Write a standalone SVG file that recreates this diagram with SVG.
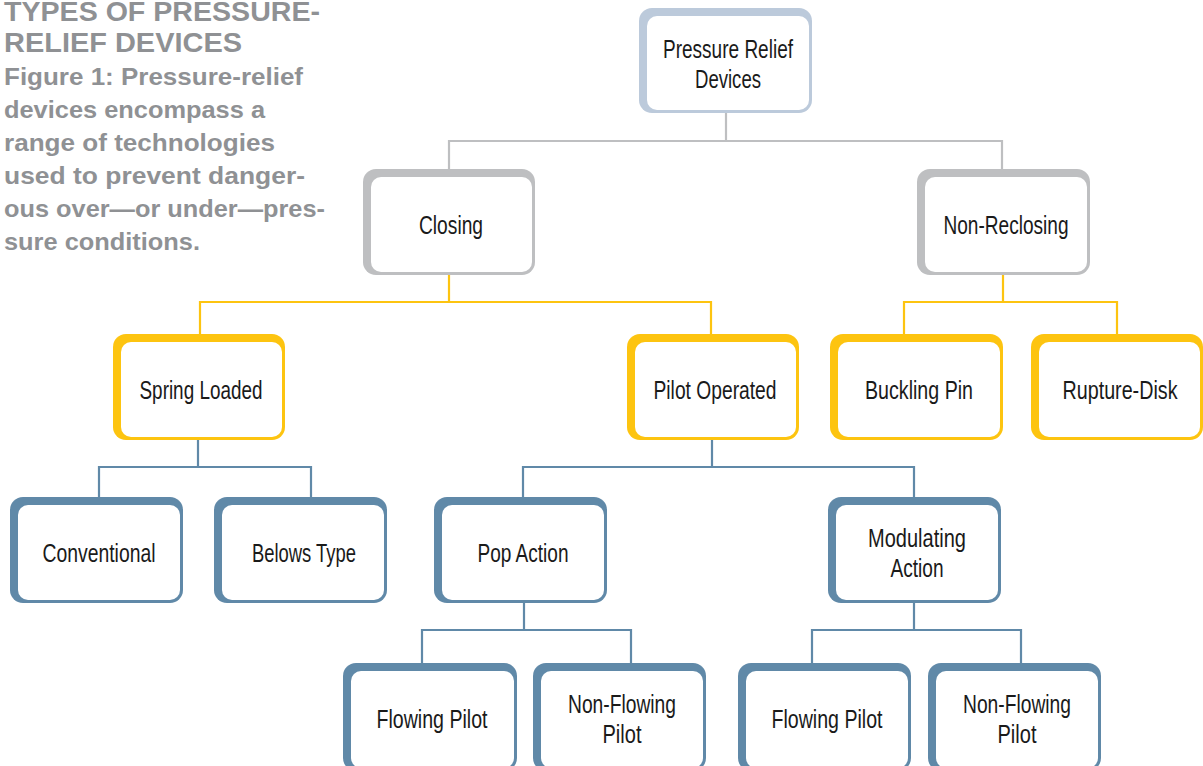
<svg xmlns="http://www.w3.org/2000/svg" width="1203" height="766" viewBox="0 0 1203 766">
<style>
.t{font-family:"Liberation Sans","DejaVu Sans",sans-serif;font-size:25px;fill:#1a1a1a;text-anchor:middle}
.h{font-family:"Liberation Sans","DejaVu Sans",sans-serif;font-weight:bold;fill:#8f9194}
.h1{font-size:27px}
.h2{font-size:24px}
.in{fill:#fff}
.c{fill:none;stroke-width:2.2}
.gb{fill:#bccadb}.gr{fill:#bebfc1}.ye{fill:#fdc410}.bl{fill:#6089a8}
</style>
<rect width="1203" height="766" fill="#fff"/>
<g id="title">
<text class="h h1" x="4" y="21" textLength="316" lengthAdjust="spacingAndGlyphs">TYPES OF PRESSURE-</text>
<text class="h h1" x="4" y="52" textLength="238" lengthAdjust="spacingAndGlyphs">RELIEF DEVICES</text>
<text class="h h2" x="4" y="85" textLength="299" lengthAdjust="spacingAndGlyphs">Figure 1:  Pressure-relief</text>
<text class="h h2" x="4" y="118" textLength="261" lengthAdjust="spacingAndGlyphs">devices encompass a</text>
<text class="h h2" x="4" y="151" textLength="271" lengthAdjust="spacingAndGlyphs">range of technologies</text>
<text class="h h2" x="4" y="184" textLength="301" lengthAdjust="spacingAndGlyphs">used to prevent danger-</text>
<text class="h h2" x="4" y="217" textLength="321" lengthAdjust="spacingAndGlyphs">ous over—or under—pres-</text>
<text class="h h2" x="4" y="250" textLength="196" lengthAdjust="spacingAndGlyphs">sure conditions.</text>
</g>
<g id="connectors">
<path class="c" stroke="#bebfc1" d="M726 113V141M449 141H1002M449 140V169M1002 140V169"/>
<path class="c" stroke="#fdc410" d="M449 275V302M200 302H711M200 301V334M711 301V334"/>
<path class="c" stroke="#fdc410" d="M1003 275V302M904 302H1117M904 301V334M1117 301V334"/>
<path class="c" stroke="#6089a8" d="M198 440V467M99 467H311M99 466V497M311 466V497"/>
<path class="c" stroke="#6089a8" d="M712 440V467M523 467H914M523 466V497M914 466V497"/>
<path class="c" stroke="#6089a8" d="M524 603V630M422 630H631M422 629V663M631 629V663"/>
<path class="c" stroke="#6089a8" d="M914 603V630M812 630H1021M812 629V663M1021 629V663"/>
</g>
<g id="n-prd"><rect class="gb" x="639" y="8" width="173" height="105" rx="13"/><rect class="in" x="647" y="16" width="162" height="94" rx="10"/><text class="t" x="728" y="58" textLength="130" lengthAdjust="spacingAndGlyphs">Pressure Relief</text><text class="t" x="728" y="88" textLength="66" lengthAdjust="spacingAndGlyphs">Devices</text></g>
<g id="n-closing"><rect class="gr" x="363" y="169" width="172" height="106" rx="13"/><rect class="in" x="371" y="177" width="161" height="95" rx="10"/><text class="t" x="451" y="234" textLength="64" lengthAdjust="spacingAndGlyphs">Closing</text></g>
<g id="n-nonreclosing"><rect class="gr" x="917" y="169" width="173" height="106" rx="13"/><rect class="in" x="925" y="177" width="162" height="95" rx="10"/><text class="t" x="1006" y="234" textLength="125" lengthAdjust="spacingAndGlyphs">Non-Reclosing</text></g>
<g id="n-spring"><rect class="ye" x="113" y="334" width="172" height="106" rx="13"/><rect class="in" x="121" y="342" width="161" height="95" rx="10"/><text class="t" x="201" y="399" textLength="123" lengthAdjust="spacingAndGlyphs">Spring Loaded</text></g>
<g id="n-pilot"><rect class="ye" x="627" y="334" width="172" height="106" rx="13"/><rect class="in" x="635" y="342" width="161" height="95" rx="10"/><text class="t" x="715" y="399" textLength="123" lengthAdjust="spacingAndGlyphs">Pilot Operated</text></g>
<g id="n-buckling"><rect class="ye" x="830" y="334" width="173" height="106" rx="13"/><rect class="in" x="838" y="342" width="162" height="95" rx="10"/><text class="t" x="919" y="399" textLength="108" lengthAdjust="spacingAndGlyphs">Buckling Pin</text></g>
<g id="n-rupture"><rect class="ye" x="1031" y="334" width="172" height="106" rx="13"/><rect class="in" x="1039" y="342" width="161" height="95" rx="10"/><text class="t" x="1120" y="399" textLength="115" lengthAdjust="spacingAndGlyphs">Rupture-Disk</text></g>
<g id="n-conventional"><rect class="bl" x="10" y="497" width="173" height="106" rx="13"/><rect class="in" x="18" y="505" width="162" height="95" rx="10"/><text class="t" x="99" y="562" textLength="113" lengthAdjust="spacingAndGlyphs">Conventional</text></g>
<g id="n-belows"><rect class="bl" x="214" y="497" width="173" height="106" rx="13"/><rect class="in" x="222" y="505" width="162" height="95" rx="10"/><text class="t" x="304" y="562" textLength="104" lengthAdjust="spacingAndGlyphs">Belows Type</text></g>
<g id="n-pop"><rect class="bl" x="434" y="497" width="173" height="106" rx="13"/><rect class="in" x="442" y="505" width="162" height="95" rx="10"/><text class="t" x="523" y="562" textLength="91" lengthAdjust="spacingAndGlyphs">Pop Action</text></g>
<g id="n-modulating"><rect class="bl" x="828" y="497" width="173" height="106" rx="13"/><rect class="in" x="836" y="505" width="162" height="95" rx="10"/><text class="t" x="917" y="547" textLength="98" lengthAdjust="spacingAndGlyphs">Modulating</text><text class="t" x="917" y="577" textLength="53" lengthAdjust="spacingAndGlyphs">Action</text></g>
<g id="n-flowing1"><rect class="bl" x="343" y="663" width="174" height="108" rx="13"/><rect class="in" x="351" y="671" width="163" height="97" rx="10"/><text class="t" x="432" y="728" textLength="111" lengthAdjust="spacingAndGlyphs">Flowing Pilot</text></g>
<g id="n-nonflowing1"><rect class="bl" x="533" y="663" width="173" height="108" rx="13"/><rect class="in" x="541" y="671" width="162" height="97" rx="10"/><text class="t" x="622" y="713" textLength="108" lengthAdjust="spacingAndGlyphs">Non-Flowing</text><text class="t" x="622" y="743" textLength="39" lengthAdjust="spacingAndGlyphs">Pilot</text></g>
<g id="n-flowing2"><rect class="bl" x="738" y="663" width="173" height="108" rx="13"/><rect class="in" x="746" y="671" width="162" height="97" rx="10"/><text class="t" x="827" y="728" textLength="111" lengthAdjust="spacingAndGlyphs">Flowing Pilot</text></g>
<g id="n-nonflowing2"><rect class="bl" x="928" y="663" width="173" height="108" rx="13"/><rect class="in" x="936" y="671" width="162" height="97" rx="10"/><text class="t" x="1017" y="713" textLength="108" lengthAdjust="spacingAndGlyphs">Non-Flowing</text><text class="t" x="1017" y="743" textLength="39" lengthAdjust="spacingAndGlyphs">Pilot</text></g>
</svg>
